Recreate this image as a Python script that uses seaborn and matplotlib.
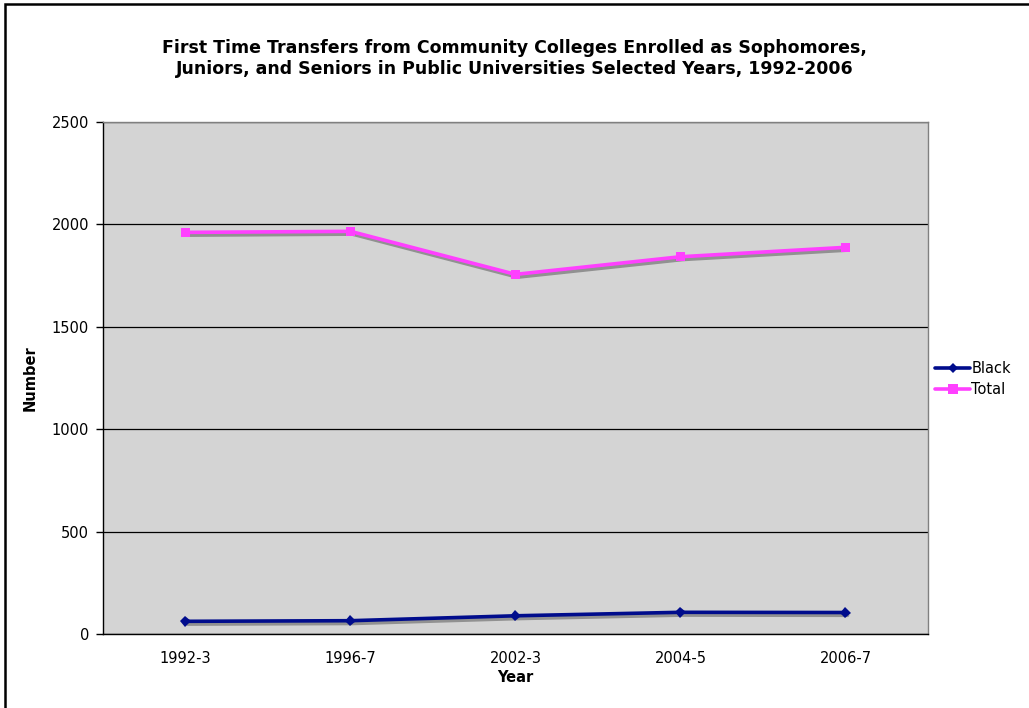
import matplotlib
matplotlib.use("Agg")
import matplotlib.pyplot as plt
import matplotlib.patheffects as pe
from matplotlib.patches import Rectangle
from matplotlib.lines import Line2D
import seaborn as sns
import pandas as pd
import numpy as np

years = ["1992-3", "1996-7", "2002-3", "2004-5", "2006-7"]
black = [62, 65, 89, 106, 105]
total = [1961, 1966, 1756, 1842, 1888]
series_names = ["Black", "Total"]
colors = {"Black": "#000C8C", "Total": "#FF40FF"}
markers = {"Black": "D", "Total": "s"}
yticks = [0, 500, 1000, 1500, 2000, 2500]

df = pd.DataFrame({
    "Year": years * 2,
    "Number": black + total,
    "Series": ["Black"] * len(years) + ["Total"] * len(years),
})

sns.set_theme(style="white")
plt.rcParams['font.family'] = ['DejaVu Sans']
plt.rcParams['text.color'] = 'black'
plt.rcParams['axes.labelcolor'] = 'black'
plt.rcParams['xtick.color'] = 'black'
plt.rcParams['ytick.color'] = 'black'

fig = plt.figure(figsize=(10.29, 7.08), dpi=100)
ax = fig.add_axes([0.1001, 0.1045, 0.8017, 0.7232])
ax.set_facecolor("#D4D4D4")

shadow = [pe.SimpleLineShadow(offset=(1.5, -2), shadow_color="#808080", alpha=0.8), pe.Normal()]

sns.lineplot(data=df, x="Year", y="Number", hue="Series", style="Series",
             palette=colors, markers=markers, dashes=False, ax=ax,
             linewidth=2.6, markersize=6.5, markeredgewidth=0, legend=False,
             sort=False)
for ln in ax.get_lines():
    ln.set_path_effects(shadow)
    if ln.get_marker() == "D":
        ln.set_markersize(5.5)

ax.set_ylim(0, 2500)
ax.set_yticks(yticks)
ax.set_yticklabels([str(v) for v in yticks], fontsize=10.5)
ax.set_xlim(-0.5, len(years) - 0.5)
ax.set_xticks(range(len(years)))
ax.set_xticklabels(years, fontsize=10.5)
ax.set_xticks(np.arange(-0.5, len(years), 1.0), minor=True)
ax.tick_params(axis="x", which="major", length=0, pad=12)
ax.tick_params(axis="x", which="minor", length=5, width=1, color="black", direction="out")
ax.tick_params(axis="y", length=5, width=1, color="black", direction="out", left=True, pad=5)
ax.yaxis.grid(True, color="black", linewidth=0.9)
ax.set_axisbelow(True)

for s in ["left", "bottom"]:
    ax.spines[s].set_color("black")
    ax.spines[s].set_linewidth(1.0)
for s in ["top", "right"]:
    ax.spines[s].set_color("#808080")
    ax.spines[s].set_linewidth(1.0)

ax.set_xlabel("Year", fontsize=10.5, fontweight="bold", labelpad=3)
ax.set_ylabel("Number", fontsize=10.5, fontweight="bold", labelpad=10)

fig.text(0.5, 0.917,
         "First Time Transfers from Community Colleges Enrolled as Sophomores,\n"
         "Juniors, and Seniors in Public Universities Selected Years, 1992-2006",
         ha="center", va="center", fontsize=12.5, fontweight="bold", linespacing=1.2)

handles = [Line2D([], [], color=colors[n], marker=markers[n], linewidth=2.6,
                  markersize=(5.5 if n == "Black" else 6.5), markeredgewidth=0)
           for n in series_names]
fig.legend(handles, series_names, loc="center left", bbox_to_anchor=(0.903, 0.465),
           frameon=False, fontsize=10.5, handlelength=2.4, handletextpad=0.1,
           labelspacing=0.4, borderaxespad=0)

fig.patches.append(Rectangle((0.005, -0.05), 1.1, 1.044, transform=fig.transFigure,
                             fill=False, edgecolor="black", linewidth=1.8))

fig.savefig("out.png", dpi=100, facecolor="white")
